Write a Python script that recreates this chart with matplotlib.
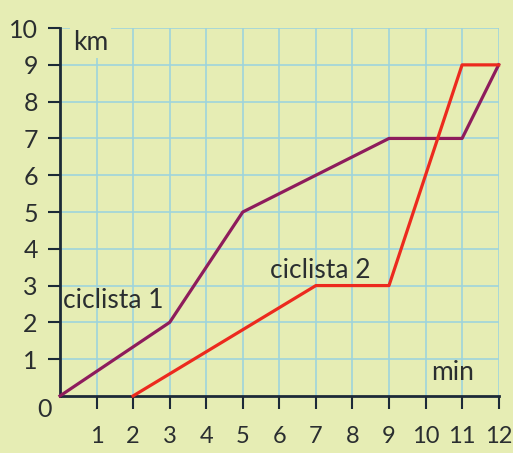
import numpy as np
import matplotlib.pyplot as plt

# tempo (min) e distanza (km) dei due ciclisti
t1 = [0, 3, 5, 9, 11, 12]
d1 = [0, 2, 5, 7, 7, 9]
t2 = [2, 7, 9, 11, 12]
d2 = [0, 3, 3, 9, 9]
xticks = list(range(1, 13))
yticks = list(range(1, 11))

bg = '#e6edb4'
grid_col = '#9fd4dc'
ink = '#2a2e30'
axis_col = '#1c2a38'

plt.rcParams['font.family'] = ['Lato', 'DejaVu Sans']

fig = plt.figure(figsize=(5.13, 4.53), dpi=100)
fig.patch.set_facecolor(bg)
ax = fig.add_axes([0.117, 0.126, 0.855, 0.812])
ax.set_facecolor(bg)

ax.plot(t1, d1, color='#8e1c5c', lw=2.3, clip_on=False, zorder=3)
ax.plot(t2, d2, color='#ec2a1e', lw=2.3, clip_on=False, zorder=3)

ax.set_xlim(0, 12)
ax.set_ylim(0, 10)
ax.set_xticks(xticks)
ax.set_yticks(yticks)
ax.set_xticklabels([str(v) for v in xticks])
ax.set_yticklabels([str(v) for v in yticks])
ax.grid(True, color=grid_col, lw=1.2)
ax.set_axisbelow(True)

for s in ['top', 'right']:
    ax.spines[s].set_visible(False)
for s in ['left', 'bottom']:
    ax.spines[s].set_color(axis_col)
    ax.spines[s].set_linewidth(2)

ax.tick_params(axis='x', length=9, width=1.5, color=axis_col, pad=13,
               labelsize=17, labelcolor=ink)
ax.tick_params(axis='y', length=9, width=1.5, color=axis_col, pad=7,
               labelsize=18, labelcolor=ink)

ax.text(-0.42, -0.38, '0', fontsize=18, color=ink,
        ha='center', va='center', clip_on=False)
ax.text(0.35, 9.6, 'km', fontsize=19, color=ink,
        ha='left', va='center',
        bbox=dict(facecolor=bg, edgecolor='none', pad=2))
ax.text(10.15, 0.65, 'min', fontsize=19, color=ink,
        ha='left', va='center')
ax.text(0.08, 2.6, 'ciclista 1', fontsize=19, color=ink,
        ha='left', va='center')
ax.text(5.75, 3.4, 'ciclista 2', fontsize=19, color=ink,
        ha='left', va='center')

fig.savefig('out.png', dpi=100, facecolor=bg)
